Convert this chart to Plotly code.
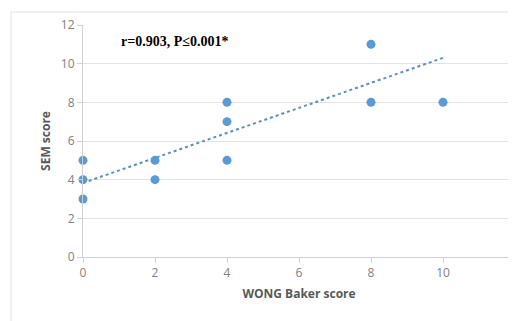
import plotly.graph_objects as go

# Data
wong_baker = [0, 0, 0, 2, 2, 4, 4, 4, 8, 8, 10]
sem_score = [5, 4, 3, 5, 4, 8, 7, 5, 11, 8, 8]
trend_x = [0, 10]
trend_y = [3.83, 10.3]
x_ticks = [0, 2, 4, 6, 8, 10, 12]
y_ticks = [0, 2, 4, 6, 8, 10, 12]
stat_label = "r=0.903, P≤0.001*"

fig = go.Figure()
fig.add_trace(go.Scatter(
    x=trend_x, y=trend_y, mode="lines",
    line=dict(color="#5B8DC0", width=2, dash="dot"),
    hoverinfo="skip", showlegend=False))
fig.add_trace(go.Scatter(
    x=wong_baker, y=sem_score, mode="markers",
    marker=dict(color="#5B9BD5", size=9),
    showlegend=False, cliponaxis=False))

tick_font = dict(family="Open Sans, sans-serif", size=12, color="#808080")
title_font = dict(family="Open Sans, sans-serif", size=12, color="#595959")

fig.update_xaxes(
    range=[0, 12], tickvals=x_ticks, ticktext=[str(v) for v in x_ticks],
    showgrid=False, zeroline=False, showline=True, linecolor="#D0D0D0", linewidth=1,
    ticks="outside", ticklen=5, tickcolor="#D0D0D0", tickfont=tick_font,
    automargin=False, ticklabeloverflow="allow",
    title=dict(text="<b>WONG Baker score</b>", font=title_font, standoff=9),
)
fig.update_yaxes(
    range=[0, 12], tickvals=y_ticks, ticktext=[str(v) for v in y_ticks],
    showgrid=True, gridcolor="#E3E3E3", gridwidth=1, zeroline=False,
    showline=True, linecolor="#D0D0D0", linewidth=1,
    ticks="outside", ticklen=5, tickcolor="#D0D0D0", tickfont=tick_font,
    automargin=False, ticklabeloverflow="allow",
    title=dict(text="<b>SEM score</b>", font=title_font, standoff=7),
)

fig.add_annotation(
    xref="paper", yref="paper", x=(174 - 83) / 432, y=(257 - 41) / 232,
    text="<b>" + stat_label + "</b>", showarrow=False,
    font=dict(family="Liberation Serif, Times New Roman, serif", size=14, color="#000000"),
    xanchor="center", yanchor="middle")

# outer chart-area border (extends past the bottom/right of the crop)
fig.add_shape(type="rect", xref="paper", yref="paper",
              x0=(11 - 83) / 432, x1=2, y0=-2, y1=(257 - 12) / 232,
              line=dict(color="#E0E0E0", width=1), layer="below")

# page body has an 8px margin, so the figure is sized to the remaining window
fig.update_layout(
    width=508, height=313,
    margin=dict(l=75, r=1, t=17, b=64, autoexpand=False),
    paper_bgcolor="white", plot_bgcolor="white",
)

fig.write_html("out.html")
